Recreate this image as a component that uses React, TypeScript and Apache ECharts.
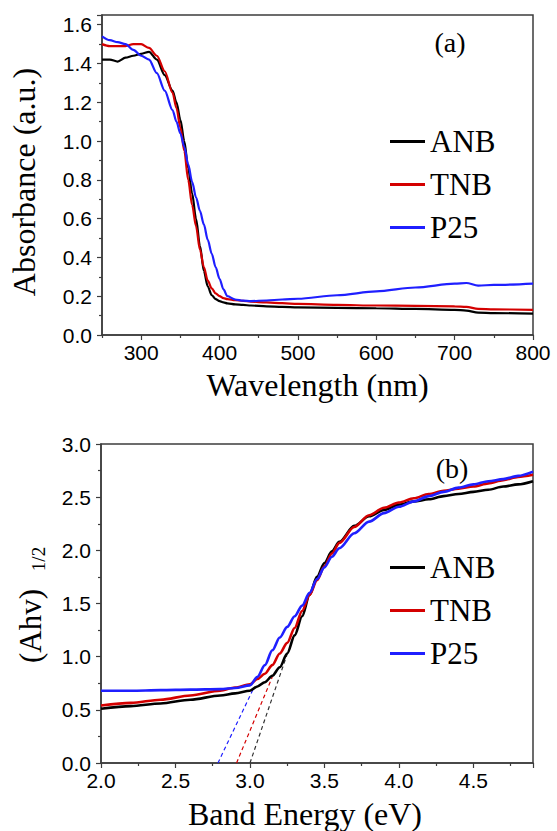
import React, { useEffect, useRef } from 'react';
import * as echarts from 'echarts';

// ---------- Panel (a): absorbance vs wavelength ----------
const wavelength = [250, 260, 270, 280, 290, 300, 310, 320, 330, 340, 345, 350, 355, 360, 365, 370, 375, 380, 385, 390, 395, 400, 405, 410, 420, 430, 440, 460, 480, 500, 550, 600, 650, 700, 715, 730, 750, 800];
const absANB = [1.42, 1.42, 1.41, 1.43, 1.44, 1.45, 1.46, 1.42, 1.34, 1.26, 1.20, 1.11, 1.00, 0.86, 0.73, 0.60, 0.46, 0.33, 0.25, 0.205, 0.185, 0.175, 0.168, 0.163, 0.158, 0.155, 0.152, 0.148, 0.145, 0.142, 0.140, 0.138, 0.135, 0.130, 0.126, 0.115, 0.113, 0.110];
const absTNB = [1.50, 1.49, 1.49, 1.49, 1.50, 1.50, 1.48, 1.44, 1.36, 1.25, 1.17, 1.07, 0.95, 0.80, 0.67, 0.56, 0.44, 0.35, 0.28, 0.24, 0.215, 0.20, 0.19, 0.185, 0.18, 0.176, 0.172, 0.168, 0.164, 0.160, 0.155, 0.152, 0.150, 0.148, 0.145, 0.135, 0.132, 0.130];
const absP25 = [1.54, 1.52, 1.51, 1.50, 1.47, 1.44, 1.42, 1.35, 1.26, 1.16, 1.10, 1.04, 0.97, 0.88, 0.79, 0.71, 0.64, 0.57, 0.49, 0.42, 0.35, 0.29, 0.235, 0.20, 0.183, 0.177, 0.175, 0.178, 0.183, 0.187, 0.205, 0.225, 0.245, 0.265, 0.268, 0.255, 0.258, 0.265];
const wlMajorTicks = [300, 400, 500, 600, 700, 800];
const wlMinorTicks = [250, 350, 450, 550, 650, 750];

// ---------- Panel (b): Tauc plot ----------
const energy = [2.0, 2.2, 2.4, 2.6, 2.8, 2.9, 3.0, 3.05, 3.1, 3.15, 3.2, 3.25, 3.3, 3.35, 3.4, 3.45, 3.5, 3.55, 3.6, 3.7, 3.8, 3.9, 4.0, 4.1, 4.2, 4.3, 4.4, 4.5, 4.6, 4.7, 4.8, 4.9];
const taucANB = [0.51, 0.535, 0.56, 0.595, 0.635, 0.655, 0.68, 0.72, 0.76, 0.82, 0.90, 1.03, 1.20, 1.38, 1.58, 1.75, 1.88, 1.99, 2.08, 2.23, 2.32, 2.38, 2.43, 2.46, 2.48, 2.51, 2.53, 2.55, 2.57, 2.60, 2.62, 2.65];
const taucTNB = [0.54, 0.565, 0.595, 0.635, 0.68, 0.71, 0.74, 0.79, 0.84, 0.92, 1.03, 1.13, 1.27, 1.43, 1.58, 1.72, 1.85, 1.97, 2.07, 2.22, 2.33, 2.40, 2.45, 2.49, 2.53, 2.56, 2.58, 2.60, 2.63, 2.66, 2.69, 2.71];
const taucP25 = [0.68, 0.68, 0.685, 0.69, 0.695, 0.705, 0.73, 0.81, 0.92, 1.06, 1.18, 1.28, 1.38, 1.48, 1.60, 1.73, 1.84, 1.94, 2.02, 2.16, 2.27, 2.35, 2.41, 2.46, 2.51, 2.55, 2.59, 2.62, 2.65, 2.67, 2.70, 2.74];
// tangent (band-gap extrapolation) lines
const fitEnergyANB = [3.0, 3.26];
const fitValueANB = [0, 1.065];
const fitEnergyTNB = [2.91, 3.15];
const fitValueTNB = [0, 0.81];
const fitEnergyP25 = [2.785, 3.02];
const fitValueP25 = [0, 0.69];

const seriesNames = ['ANB', 'TNB', 'P25'];

const pairs = (xs: number[], ys: number[]) => xs.map((x, i) => [x, ys[i]]);
const isMult = (v: number, step: number) => Math.abs(v / step - Math.round(v / step)) < 1e-6;

const BLACK = '#000000';
const RED = '#d40000';
const BLUE = '#1f1fff';
const AXIS = '#3c3c3c';
const SERIF = 'Liberation Serif';
const SANS = 'Liberation Sans';

export default function App() {
  const ref = useRef<HTMLDivElement>(null);

  useEffect(() => {
    if (!ref.current) return;
    const chart = echarts.init(ref.current, undefined, { renderer: 'svg' });

    const axisLine = { show: true, onZero: false, lineStyle: { color: AXIS, width: 1.5 } };
    const tickLabel = { color: '#000', fontFamily: SANS, fontSize: 21 };
    const nameStyle = { color: '#000', fontFamily: SERIF, fontSize: 32 };

    const line = (name: string, xi: number, yi: number, data: number[][], color: string, width: number) => ({
      name,
      type: 'line',
      xAxisIndex: xi,
      yAxisIndex: yi,
      data,
      showSymbol: false,
      symbol: 'none',
      smooth: 0.3,
      smoothMonotone: 'x',
      lineStyle: { color, width },
      itemStyle: { color },
      z: 3,
    });
    const dash = (name: string, data: number[][], color: string) => ({
      name,
      type: 'line',
      xAxisIndex: 2,
      yAxisIndex: 1,
      data,
      showSymbol: false,
      symbol: 'none',
      lineStyle: { color, width: 1.2, type: [4, 3] },
      itemStyle: { color },
      z: 2,
    });

    const legendCommon = {
      data: seriesNames,
      orient: 'vertical',
      left: 390,
      padding: 0,
      itemGap: 12,
      itemWidth: 35,
      itemHeight: 3,
      icon: 'rect',
      selectedMode: false,
      textStyle: { color: '#000', fontFamily: SERIF, fontSize: 31, lineHeight: 30 },
    };

    const tickFmt = (step: number, digits: number, skip?: (v: number) => boolean) => (v: number) =>
      isMult(v, step) && !(skip && skip(v)) ? v.toFixed(digits) : '';

    chart.setOption({
      animation: false,
      backgroundColor: '#ffffff',
      textStyle: { fontFamily: SANS },
      grid: [
        { left: 101, top: 15, width: 432, height: 320, show: true, borderColor: AXIS, borderWidth: 1.5, backgroundColor: 'transparent' },
        { left: 101, top: 444, width: 432, height: 319, show: true, borderColor: AXIS, borderWidth: 1.5, backgroundColor: 'transparent' },
      ],
      legend: [
        { ...legendCommon, top: 126 },
        { ...legendCommon, top: 552 },
      ],
      xAxis: [
        {
          gridIndex: 0,
          type: 'value',
          min: 250,
          max: 800,
          interval: 50,
          axisLine,
          axisTick: { show: true, inside: false, length: 5, customValues: wlMajorTicks, lineStyle: { color: AXIS, width: 1.2 } },
          axisLabel: { ...tickLabel, margin: 7, formatter: tickFmt(100, 0, (v) => v <= 250) },
          splitLine: { show: false },
          name: 'Wavelength (nm)',
          nameLocation: 'middle',
          nameGap: 34,
          nameTextStyle: nameStyle,
        },
        {
          gridIndex: 0,
          type: 'value',
          min: 250,
          max: 800,
          interval: 50,
          position: 'bottom',
          axisLine: { show: false },
          axisTick: { show: true, inside: false, length: 3, customValues: wlMinorTicks, lineStyle: { color: AXIS, width: 1.2 } },
          axisLabel: { show: false },
          splitLine: { show: false },
        },
        {
          gridIndex: 1,
          type: 'value',
          min: 2.0,
          max: 4.9,
          interval: 0.5,
          axisLine,
          axisTick: { show: true, inside: false, length: 5, lineStyle: { color: AXIS, width: 1.2 } },
          minorTick: { show: true, splitNumber: 2, length: 3, lineStyle: { color: AXIS, width: 1.2 } },
          axisLabel: { ...tickLabel, margin: 7, formatter: tickFmt(0.5, 1) },
          splitLine: { show: false },
          name: 'Band Energy (eV)',
          nameLocation: 'middle',
          nameGap: 35,
          nameTextStyle: { ...nameStyle, padding: [0, 24, 0, 0] },
        },
      ],
      yAxis: [
        {
          gridIndex: 0,
          type: 'value',
          min: 0,
          max: 1.65,
          interval: 0.2,
          axisLine,
          axisTick: { show: true, inside: false, length: 5, lineStyle: { color: AXIS, width: 1.2 } },
          minorTick: { show: true, splitNumber: 2, length: 3, lineStyle: { color: AXIS, width: 1.2 } },
          axisLabel: { ...tickLabel, margin: 10, formatter: tickFmt(0.2, 1) },
          splitLine: { show: false },
          name: 'Absorbance (a.u.)',
          nameLocation: 'middle',
          nameGap: 62,
          nameTextStyle: { ...nameStyle, padding: [0, 14, 0, 0] },
        },
        {
          gridIndex: 1,
          type: 'value',
          min: 0,
          max: 3,
          interval: 0.5,
          axisLine,
          axisTick: { show: true, inside: false, length: 5, lineStyle: { color: AXIS, width: 1.2 } },
          minorTick: { show: true, splitNumber: 2, length: 3, lineStyle: { color: AXIS, width: 1.2 } },
          axisLabel: { ...tickLabel, margin: 10, formatter: tickFmt(0.5, 1) },
          splitLine: { show: false },
        },
      ],
      graphic: [
        { type: 'text', x: 450, y: 42, style: { text: '(a)', fontFamily: SERIF, fontSize: 28, fill: '#000', align: 'center', verticalAlign: 'middle' } },
        { type: 'text', x: 452, y: 468, style: { text: '(b)', fontFamily: SERIF, fontSize: 28, fill: '#000', align: 'center', verticalAlign: 'middle' } },
        { type: 'text', x: 30, y: 626, rotation: Math.PI / 2, style: { text: '(Ahv)', fontFamily: SERIF, fontSize: 31, fill: '#000', align: 'center', verticalAlign: 'middle' } },
        { type: 'text', x: 38, y: 559, rotation: Math.PI / 2, style: { text: '1/2', fontFamily: SERIF, fontSize: 19, fill: '#000', align: 'center', verticalAlign: 'middle' } },
      ],
      series: [
        line('ANB', 0, 0, pairs(wavelength, absANB), BLACK, 2.2),
        line('TNB', 0, 0, pairs(wavelength, absTNB), RED, 2.2),
        line('P25', 0, 0, pairs(wavelength, absP25), BLUE, 2.2),
        dash('ANB fit', pairs(fitEnergyANB, fitValueANB), '#333333'),
        dash('TNB fit', pairs(fitEnergyTNB, fitValueTNB), RED),
        dash('P25 fit', pairs(fitEnergyP25, fitValueP25), BLUE),
        line('ANB', 2, 1, pairs(energy, taucANB), BLACK, 2.6),
        line('TNB', 2, 1, pairs(energy, taucTNB), RED, 2.6),
        line('P25', 2, 1, pairs(energy, taucP25), BLUE, 2.6),
      ],
    });

    return () => chart.dispose();
  }, []);

  return <div ref={ref} style={{ position: 'fixed', left: 0, top: 0, width: 557, height: 831, background: '#fff' }} />;
}
